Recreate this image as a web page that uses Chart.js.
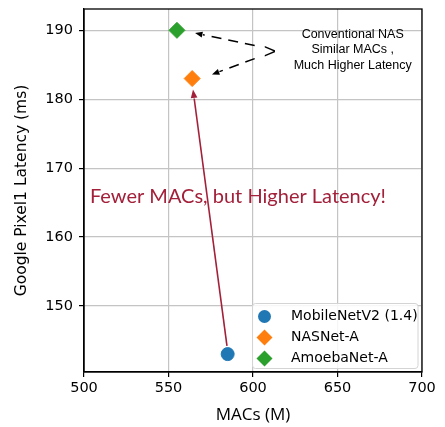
<!DOCTYPE html>
<html>
<head>
<meta charset="utf-8">
<script src="https://cdn.jsdelivr.net/npm/chart.js@4.4.1/dist/chart.umd.min.js"></script>
<style>
  html, body { margin: 0; padding: 0; background: #fff; }
  #wrap { width: 445px; height: 427px; }
</style>
</head>
<body>
<div id="wrap"><canvas id="macChart"></canvas></div>
<script>
const models = ['MobileNetV2 (1.4)', 'NASNet-A', 'AmoebaNet-A'];
const macs = [585, 564, 555];
const latency = [143, 183, 190];
const colors = ['#1f77b4', '#ff7f0e', '#2ca02c'];
const shapes = ['circle', 'rectRot', 'rectRot'];
const xTicks = [500, 550, 600, 650, 700];
const yTicks = [150, 160, 170, 180, 190];

const tickFont = { family: 'DejaVu Sans', size: 14.5 };

// frame, arrows, notes and legend drawn on top, placed in data space
const notes = {
  id: 'notes',
  afterDatasetsDraw(chart) {
    const { ctx, chartArea: a, scales: { x, y } } = chart;
    ctx.save();

    ctx.strokeStyle = '#000';
    ctx.lineWidth = 1.3;
    ctx.strokeRect(a.left, a.top, a.right - a.left, a.bottom - a.top);

    function arrow(x0, y0, x1, y1, color, dash, head, w) {
      const px0 = x.getPixelForValue(x0), py0 = y.getPixelForValue(y0);
      const px1 = x.getPixelForValue(x1), py1 = y.getPixelForValue(y1);
      const ang = Math.atan2(py1 - py0, px1 - px0);
      ctx.strokeStyle = color;
      ctx.fillStyle = color;
      ctx.lineWidth = w;
      ctx.setLineDash(dash);
      ctx.beginPath();
      ctx.moveTo(px0, py0);
      ctx.lineTo(px1 - Math.cos(ang) * head, py1 - Math.sin(ang) * head);
      ctx.stroke();
      ctx.setLineDash([]);
      ctx.beginPath();
      ctx.moveTo(px1, py1);
      ctx.lineTo(px1 - Math.cos(ang - 0.38) * head, py1 - Math.sin(ang - 0.38) * head);
      ctx.lineTo(px1 - Math.cos(ang + 0.38) * head, py1 - Math.sin(ang + 0.38) * head);
      ctx.closePath();
      ctx.fill();
    }

    arrow(584.6, 144.2, 564.5, 181.4, '#a3203a', [], 9, 1.6);
    arrow(601, 187.8, 565.7, 189.6, '#000', [10, 7], 8, 1.5);
    arrow(601, 185.9, 575.7, 183.6, '#000', [10, 7], 8, 1.5);

    ctx.fillStyle = '#000';
    ctx.font = '21px Liberation Sans';
    ctx.textAlign = 'center';
    ctx.textBaseline = 'middle';
    ctx.fillText('>', x.getPixelForValue(610), y.getPixelForValue(186.8));

    ctx.font = '12.5px Liberation Sans';
    const cx = x.getPixelForValue(659);
    ctx.fillText('Conventional NAS', cx, y.getPixelForValue(189.45));
    ctx.fillText('Similar MACs ,', cx, y.getPixelForValue(187.2));
    ctx.fillText('Much Higher Latency', cx, y.getPixelForValue(184.95));

    ctx.fillStyle = '#a3203a';
    ctx.font = '20px Lato';
    ctx.textAlign = 'left';
    ctx.fillText('Fewer MACs, but Higher Latency!', x.getPixelForValue(503.5), y.getPixelForValue(165.9));

    // legend, lower right corner of the plot
    const lx = 252.5, ly = 303.5;
    ctx.fillStyle = 'rgba(255,255,255,0.85)';
    ctx.strokeStyle = '#d4d4d4';
    ctx.lineWidth = 1;
    ctx.beginPath();
    ctx.roundRect(lx, ly, a.right - lx - 4, 65, 3);
    ctx.fill();
    ctx.stroke();
    chart.data.datasets.forEach((ds, i) => {
      const my = ly + 13 + i * 21;
      const mx = lx + 12;
      ctx.fillStyle = ds.backgroundColor;
      ctx.beginPath();
      if (ds.pointStyle === 'circle') {
        ctx.arc(mx, my, 6.5, 0, Math.PI * 2);
      } else {
        ctx.moveTo(mx, my - 8);
        ctx.lineTo(mx + 8, my);
        ctx.lineTo(mx, my + 8);
        ctx.lineTo(mx - 8, my);
        ctx.closePath();
      }
      ctx.fill();
      ctx.fillStyle = '#000';
      ctx.font = '14px DejaVu Sans';
      ctx.fillText(ds.label, lx + 38.5, my);
    });
    ctx.restore();
  }
};

new Chart(document.getElementById('macChart'), {
  type: 'scatter',
  data: {
    datasets: models.map((m, i) => ({
      label: m,
      data: [{ x: macs[i], y: latency[i] }],
      backgroundColor: colors[i],
      borderColor: colors[i],
      pointStyle: shapes[i],
      pointRadius: shapes[i] === 'circle' ? 6.5 : 8,
      pointHoverRadius: shapes[i] === 'circle' ? 6.5 : 8
    }))
  },
  options: {
    responsive: true,
    maintainAspectRatio: false,
    animation: false,
    layout: { padding: { left: 8, right: 23, top: 9, bottom: 0 } },
    plugins: { legend: { display: false }, tooltip: { enabled: false } },
    scales: {
      x: {
        type: 'linear',
        min: 500,
        max: 700,
        afterBuildTicks: s => { s.ticks = xTicks.map(v => ({ value: v })); },
        afterFit: s => { s.height = 55; s.paddingLeft = 0; s.paddingRight = 0; },
        ticks: { color: '#000', font: tickFont, padding: 3, maxRotation: 0 },
        grid: { color: '#c4c4c4', tickColor: '#000', tickLength: 5, lineWidth: 1.2 },
        border: { color: '#000', width: 1.3 },
        title: { display: true, text: 'MACs (M)', color: '#000', font: { family: 'Open Sans', size: 17 }, padding: { top: 0, bottom: 1.5 } }
      },
      y: {
        type: 'linear',
        min: 140.4,
        max: 193.1,
        afterBuildTicks: s => { s.ticks = yTicks.map(v => ({ value: v })); },
        afterFit: s => { s.width = 76; s.paddingTop = 0; s.paddingBottom = 0; },
        ticks: { color: '#000', font: tickFont, padding: 6 },
        grid: { color: '#c4c4c4', tickColor: '#000', tickLength: 5, lineWidth: 1.2 },
        border: { color: '#000', width: 1.3 },
        title: { display: true, text: 'Google Pixel1 Latency (ms)', color: '#000', font: { family: 'DejaVu Sans', size: 15.5 }, padding: { top: 5, bottom: 2 } }
      }
    }
  },
  plugins: [notes]
});
</script>
</body>
</html>
